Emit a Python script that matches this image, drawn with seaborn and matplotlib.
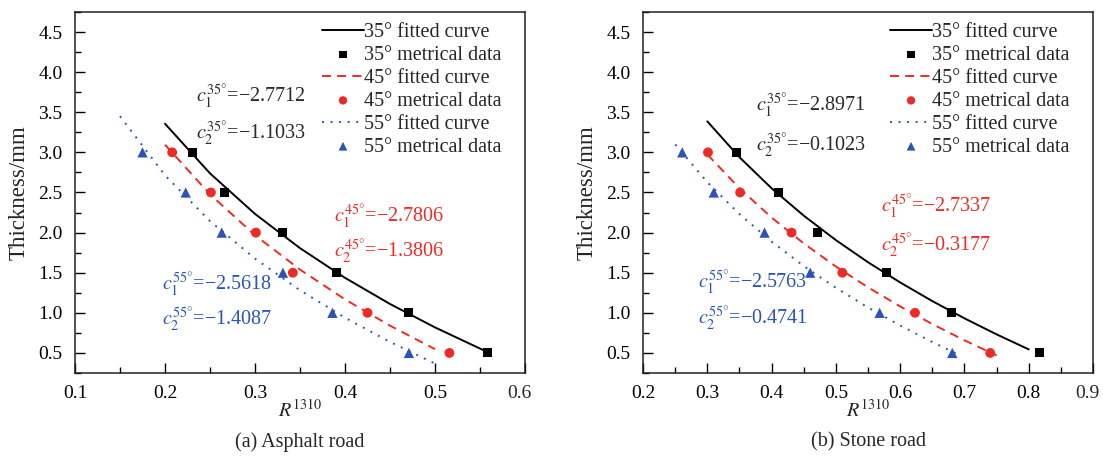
"""Thickness vs R1310 fitted curves for asphalt and stone road."""

import matplotlib
from matplotlib import pyplot as plt
from matplotlib.ticker import MultipleLocator, FuncFormatter
import seaborn as sns

matplotlib.use("Agg")

# measured thickness levels (mm), shared by all series
thickness = [3.0, 2.5, 2.0, 1.5, 1.0, 0.5]

# (a) asphalt road, measured R1310
asph_r35 = [0.231, 0.266, 0.331, 0.391, 0.470, 0.558]
asph_r45 = [0.208, 0.251, 0.301, 0.342, 0.425, 0.516]
asph_r55 = [0.175, 0.223, 0.263, 0.331, 0.386, 0.471]

# (a) fitted curve vertices
asph_fit35_r = [0.20, 0.25, 0.30, 0.35, 0.40, 0.45, 0.50, 0.555]
asph_fit35_h = [3.357, 2.738, 2.233, 1.806, 1.436, 1.110, 0.818, 0.528]
asph_fit45_r = [0.20, 0.25, 0.30, 0.35, 0.40, 0.45, 0.50]
asph_fit45_h = [3.095, 2.477, 1.967, 1.539, 1.167, 0.840, 0.547]
asph_fit55_r = [0.15, 0.20, 0.25, 0.30, 0.35, 0.40, 0.45, 0.50]
asph_fit55_h = [3.451, 2.714, 2.143, 1.676, 1.281, 0.939, 0.637, 0.367]

# (b) stone road, measured R1310
stone_r35 = [0.346, 0.411, 0.471, 0.579, 0.680, 0.817]
stone_r45 = [0.301, 0.351, 0.431, 0.510, 0.623, 0.740]
stone_r55 = [0.261, 0.310, 0.389, 0.460, 0.568, 0.681]

# (b) fitted curve vertices
stone_fit35_r = [0.30, 0.35, 0.40, 0.45, 0.50, 0.55, 0.60, 0.65, 0.70, 0.75, 0.80]
stone_fit35_h = [3.386, 2.939, 2.552, 2.211, 1.906, 1.630, 1.378, 1.146, 0.931, 0.731, 0.544]
stone_fit45_r = [0.30, 0.35, 0.40, 0.45, 0.50, 0.55, 0.60, 0.65, 0.70, 0.75]
stone_fit45_h = [2.974, 2.552, 2.187, 1.865, 1.577, 1.317, 1.079, 0.860, 0.657, 0.469]
stone_fit55_r = [0.25, 0.30, 0.35, 0.40, 0.45, 0.50, 0.55, 0.60, 0.65, 0.69]
stone_fit55_h = [3.098, 2.628, 2.231, 1.887, 1.583, 1.312, 1.066, 0.842, 0.636, 0.482]

# fit coefficients shown on the chart
asph_coefs = {"35": ("2.7712", "1.1033"), "45": ("2.7806", "1.3806"), "55": ("2.5618", "1.4087")}
stone_coefs = {"35": ("2.8971", "0.1023"), "45": ("2.7337", "0.3177"), "55": ("2.5763", "0.4741")}

BLACK = "#000000"
RED = "#ec2a26"
BLUE = "#2b55b5"
TEXT_BLACK = "#2a2a2a"

sns.set_style("ticks")
plt.rcParams["font.family"] = ["Liberation Serif", "DejaVu Serif"]
plt.rcParams["mathtext.fontset"] = "stix"


def _draw_panel(ax, measured, fits, coefs, text_pos, xlim, caption):
    """Draws one panel: fitted lines, measured points, coefficient labels."""
    styles = [
        ("35", BLACK, "-", "s", 42),
        ("45", RED, (0, (4.6, 3.2)), "o", 50),
        ("55", BLUE, (0, (1, 3.4)), "^", 55),
    ]
    handles = []
    for (angle, color, ls, marker, size), r_vals, (fit_r, fit_h) in zip(styles, measured, fits):
        sns.lineplot(x=fit_r, y=fit_h, ax=ax, color=color, linestyle=ls,
                     linewidth=1.4, sort=False, estimator=None)
        line = ax.lines[-1]
        sns.scatterplot(x=r_vals, y=thickness, ax=ax, color=color, marker=marker,
                        s=size, edgecolor="none", linewidth=0, zorder=3)
        handles.append((line, f"{angle}° fitted curve"))
        handles.append((ax.collections[-1], f"{angle}° metrical data"))

    ax.legend([h for h, _ in handles], [l for _, l in handles],
              loc="upper right", bbox_to_anchor=(0.948, 0.97), frameon=False,
              fontsize=14.5, handlelength=2.1, handletextpad=0.0,
              labelspacing=0.19, borderaxespad=0.0, borderpad=0.0,
              markerscale=0.85)

    colors = {"35": TEXT_BLACK, "45": RED, "55": BLUE}
    for angle, (x, y1, y2) in text_pos.items():
        c1, c2 = coefs[angle]
        ax.text(x, y1, rf"$c_1^{{{angle}°}}$=−{c1}", color=colors[angle],
                fontsize=14.5, va="center", ha="left")
        ax.text(x, y2, rf"$c_2^{{{angle}°}}$=−{c2}", color=colors[angle],
                fontsize=14.5, va="center", ha="left")

    ax.set_xlim(*xlim)
    ax.set_ylim(0.25, 4.75)
    x_end = xlim[1]
    ax.xaxis.set_major_locator(MultipleLocator(0.1))
    ax.xaxis.set_minor_locator(MultipleLocator(0.05))
    ax.yaxis.set_major_locator(MultipleLocator(0.5))
    ax.yaxis.set_minor_locator(MultipleLocator(0.25))
    # the last x label is drawn separately so it stays inside the canvas
    ax.xaxis.set_major_formatter(
        FuncFormatter(lambda v, _: "" if abs(v - x_end) < 1e-6 else f"{v:.1f}"))
    ax.yaxis.set_major_formatter(FuncFormatter(lambda v, _: f"{v:.1f}"))
    ax.tick_params(which="both", direction="in", top=False, right=False,
                   labelsize=14, width=1.0, colors=BLACK)
    ax.tick_params(which="major", length=7, pad=9)
    ax.tick_params(which="minor", length=4)
    ax.annotate(f"{x_end:.1f}", xy=(x_end, 0), xycoords=("data", "axes fraction"),
                xytext=(-4, -9), textcoords="offset points", ha="center", va="top",
                fontsize=14, annotation_clip=False)
    for spine in ax.spines.values():
        spine.set_visible(True)
        spine.set_linewidth(1.1)
        spine.set_color("#222222")
    ax.set_xlabel(r"$R^{1310}$", fontsize=14.5, labelpad=-2)
    ax.set_ylabel("Thickness/mm", fontsize=16.5, labelpad=6)
    ax.text(0.5, -0.191, caption, transform=ax.transAxes, ha="center", va="center",
            fontsize=14.5)


fig = plt.figure(figsize=(11.03, 4.59), dpi=100)
ax_a = fig.add_axes([0.068, 0.1874, 0.408, 0.7865])
ax_b = fig.add_axes([0.583, 0.1874, 0.408, 0.7865])

_draw_panel(
    ax_a,
    [asph_r35, asph_r45, asph_r55],
    [(asph_fit35_r, asph_fit35_h), (asph_fit45_r, asph_fit45_h), (asph_fit55_r, asph_fit55_h)],
    asph_coefs,
    {"35": (0.234, 3.69, 3.23), "45": (0.388, 2.20, 1.76), "55": (0.197, 1.35, 0.91)},
    (0.1, 0.6),
    "(a) Asphalt road",
)
_draw_panel(
    ax_b,
    [stone_r35, stone_r45, stone_r55],
    [(stone_fit35_r, stone_fit35_h), (stone_fit45_r, stone_fit45_h), (stone_fit55_r, stone_fit55_h)],
    stone_coefs,
    {"35": (0.375, 3.58, 3.08), "45": (0.5695, 2.32, 1.84), "55": (0.285, 1.37, 0.93)},
    (0.2, 0.9),
    "(b) Stone road",
)

plt.savefig("out.png", dpi=100)
